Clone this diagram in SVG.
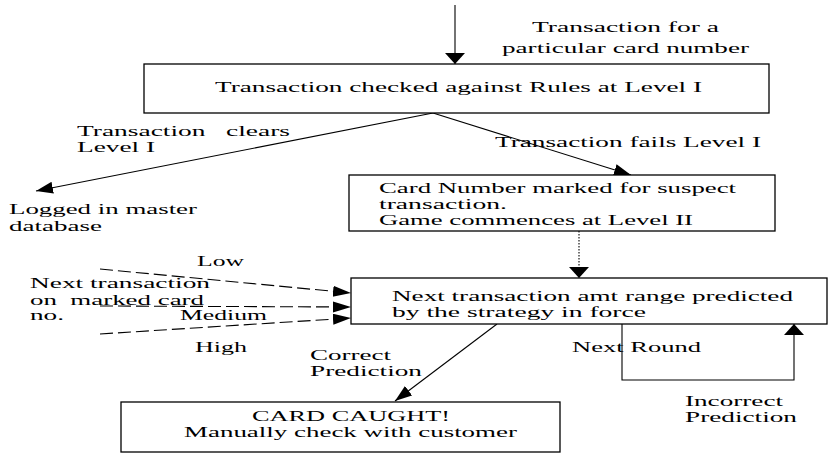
<svg xmlns="http://www.w3.org/2000/svg" width="829" height="455" viewBox="0 0 829 455">
<style>
text{font-family:"Liberation Serif","Times New Roman",serif;font-size:14px;fill:#000}
.box{fill:#fff;stroke:#000;stroke-width:1.3}
.ln{fill:none;stroke:#000;stroke-width:1.1}
.dash{stroke-dasharray:13 5}
.dot{stroke-dasharray:1.5 1.5}
</style>
<defs>
<marker id="aV" markerUnits="userSpaceOnUse" markerWidth="14" markerHeight="22" refX="11" refY="10" orient="auto"><path d="M0,0 L11,10 L0,20 Z" fill="#000"/></marker>
<marker id="aH" markerUnits="userSpaceOnUse" markerWidth="20" markerHeight="12" refX="18" refY="5.5" orient="auto"><path d="M0,0 L18,5.5 L0,11 Z" fill="#000"/></marker>
<marker id="aD" markerUnits="userSpaceOnUse" markerWidth="20" markerHeight="14" refX="17" refY="6" orient="auto"><path d="M0,0 L17,6 L0,12 Z" fill="#000"/></marker>
</defs>
<rect width="829" height="455" fill="#fff"/>
<g id="connectors">
<line class="ln" x1="455" y1="5" x2="455" y2="64" stroke-width="1.5" marker-end="url(#aV)"/>
<line class="ln" x1="433" y1="113" x2="36" y2="191" marker-end="url(#aD)"/>
<line class="ln" x1="433" y1="113" x2="631" y2="175" marker-end="url(#aD)"/>
<line class="ln dot" x1="579" y1="231" x2="579" y2="278" marker-end="url(#aV)"/>
<line class="ln dash" x1="100" y1="269" x2="351" y2="293" marker-end="url(#aH)"/>
<line class="ln dash" x1="100" y1="306" x2="351" y2="307" marker-end="url(#aH)"/>
<line class="ln dash" x1="100" y1="334" x2="351" y2="318" marker-end="url(#aH)"/>
<line class="ln" x1="497" y1="324" x2="395" y2="401" marker-end="url(#aD)"/>
<polyline class="ln" points="622,324 622,380 794,380 794,324" marker-end="url(#aV)"/>
<text x="532" y="32" textLength="187" lengthAdjust="spacingAndGlyphs">Transaction for a</text>
<text x="502" y="53" textLength="247" lengthAdjust="spacingAndGlyphs">particular card number</text>
<text x="77" y="136" textLength="213" lengthAdjust="spacingAndGlyphs" xml:space="preserve">Transaction   clears</text>
<text x="77" y="152" textLength="78" lengthAdjust="spacingAndGlyphs">Level I</text>
<text x="495" y="147" textLength="266" lengthAdjust="spacingAndGlyphs">Transaction fails Level I</text>
<text x="197" y="266" textLength="47" lengthAdjust="spacingAndGlyphs">Low</text>
<text x="180" y="320" textLength="87" lengthAdjust="spacingAndGlyphs">Medium</text>
<text x="195" y="352" textLength="52" lengthAdjust="spacingAndGlyphs">High</text>
<text x="310" y="360" textLength="81" lengthAdjust="spacingAndGlyphs">Correct</text>
<text x="310" y="376" textLength="112" lengthAdjust="spacingAndGlyphs">Prediction</text>
<text x="572" y="352" textLength="129" lengthAdjust="spacingAndGlyphs">Next Round</text>
<text x="685" y="406" textLength="98" lengthAdjust="spacingAndGlyphs">Incorrect</text>
<text x="685" y="422" textLength="112" lengthAdjust="spacingAndGlyphs">Prediction</text>
</g>
<g id="n1">
<rect class="box" x="144" y="64" width="625" height="49"/>
<text x="215" y="92" textLength="487" lengthAdjust="spacingAndGlyphs">Transaction checked against Rules at Level I</text>
</g>
<g id="n2">
<text x="9" y="214" textLength="188" lengthAdjust="spacingAndGlyphs">Logged in master</text>
<text x="9" y="231" textLength="93" lengthAdjust="spacingAndGlyphs">database</text>
</g>
<g id="n3">
<rect class="box" x="349" y="175" width="426" height="56"/>
<text x="379" y="193" textLength="357" lengthAdjust="spacingAndGlyphs">Card Number marked for suspect</text>
<text x="379" y="209" textLength="128" lengthAdjust="spacingAndGlyphs">transaction.</text>
<text x="379" y="225" textLength="314" lengthAdjust="spacingAndGlyphs">Game commences at Level II</text>
</g>
<g id="n4">
<text x="30" y="288" textLength="180" lengthAdjust="spacingAndGlyphs">Next transaction</text>
<text x="30" y="305" textLength="174" lengthAdjust="spacingAndGlyphs" xml:space="preserve">on  marked card</text>
<text x="30" y="320" textLength="34" lengthAdjust="spacingAndGlyphs">no.</text>
</g>
<g id="n5">
<rect class="box" x="351" y="278" width="476" height="46"/>
<text x="392" y="301" textLength="401" lengthAdjust="spacingAndGlyphs">Next transaction amt range predicted</text>
<text x="392" y="317" textLength="254" lengthAdjust="spacingAndGlyphs">by the strategy in force</text>
</g>
<g id="n6">
<rect class="box" x="121" y="402" width="439" height="50"/>
<text x="252" y="421" textLength="198" lengthAdjust="spacingAndGlyphs">CARD CAUGHT!</text>
<text x="184" y="437" textLength="333" lengthAdjust="spacingAndGlyphs">Manually check with customer</text>
</g>
</svg>
